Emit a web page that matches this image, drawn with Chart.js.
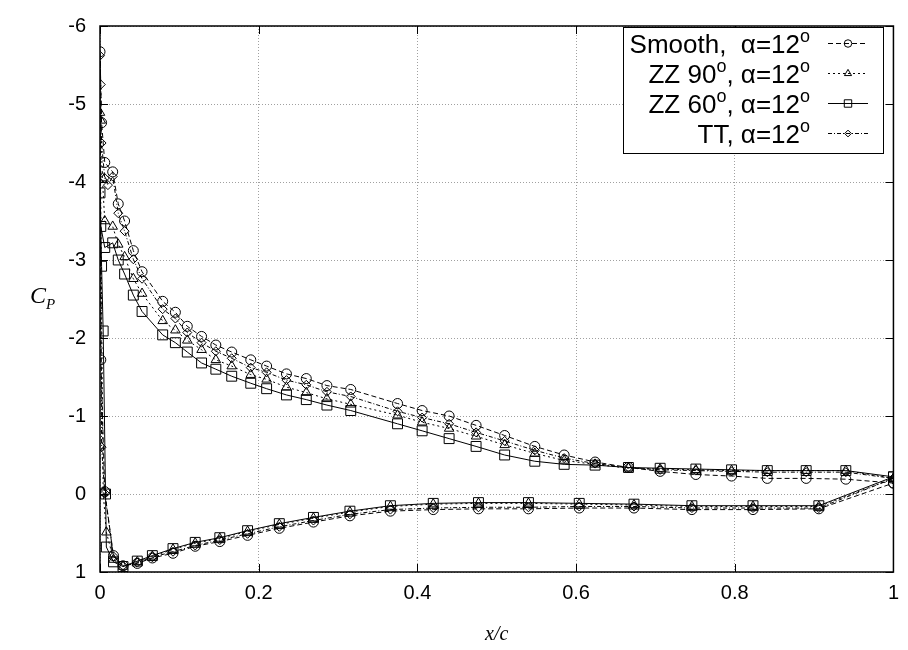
<html><head>
<meta charset="UTF-8">
<title>Cp distribution, alpha 12</title>
<style>
  body { margin: 0; background: #fff; }
  #cpChart { display: block; }
</style>
<script src="https://cdn.jsdelivr.net/npm/chart.js"></script>
</head>
<body>
<canvas id="cpChart" width="908" height="650"></canvas>
<script>
  // Upper surface stations (x/c) shared by all four cases, LE -> TE
  const upperX = [0.016, 0.023, 0.031, 0.042, 0.053, 0.079, 0.095, 0.11, 0.128, 0.146, 0.166, 0.19, 0.21, 0.235, 0.26, 0.286, 0.316,
    0.375, 0.406, 0.44, 0.474, 0.51, 0.548, 0.585, 0.624, 0.666, 0.706, 0.751, 0.796, 0.841, 0.89, 0.94, 1.0];
  const smoothUpper = [-4.13, -3.72, -3.5, -3.12, -2.85, -2.47, -2.33, -2.15, -2.02, -1.91, -1.82, -1.72, -1.64, -1.54, -1.48, -1.39, -1.34,
    -1.16, -1.07, -1.0, -0.88, -0.75, -0.61, -0.5, -0.41, -0.34, -0.29, -0.25, -0.23, -0.2, -0.2, -0.19, -0.14];
  const zz90Upper = [-3.43, -3.2, -3.04, -2.76, -2.57, -2.22, -2.1, -1.97, -1.85, -1.72, -1.64, -1.53, -1.47, -1.37, -1.3, -1.22, -1.15,
    -1.01, -0.92, -0.84, -0.74, -0.63, -0.52, -0.43, -0.38, -0.33, -0.32, -0.31, -0.3, -0.3, -0.3, -0.3, -0.2];
  const zz60Upper = [-3.22, -3.0, -2.82, -2.55, -2.34, -2.04, -1.94, -1.82, -1.68, -1.6, -1.51, -1.42, -1.35, -1.27, -1.21, -1.14, -1.07,
    -0.9, -0.81, -0.71, -0.61, -0.5, -0.42, -0.38, -0.37, -0.34, -0.33, -0.32, -0.31, -0.3, -0.3, -0.3, -0.22];
  const ttUpper = [-4.07, -3.6, -3.37, -3.01, -2.76, -2.37, -2.25, -2.07, -1.94, -1.83, -1.74, -1.62, -1.56, -1.46, -1.4, -1.31, -1.25,
    -1.06, -0.98, -0.9, -0.79, -0.68, -0.56, -0.46, -0.39, -0.34, -0.31, -0.3, -0.29, -0.28, -0.28, -0.28, -0.2];

  // Lower surface stations, LE -> TE (the TE point is the upper one)
  const lowerX = [0.017, 0.029, 0.047, 0.066, 0.092, 0.12, 0.151, 0.186, 0.226, 0.269, 0.315, 0.366, 0.42, 0.477, 0.54, 0.604, 0.673,
    0.746, 0.823, 0.906];
  const smoothLower = [0.79, 0.92, 0.89, 0.82, 0.76, 0.67, 0.61, 0.53, 0.44, 0.36, 0.28, 0.22, 0.2, 0.19, 0.19, 0.18, 0.18, 0.2, 0.2, 0.19];
  const zz90Lower = [0.84, 0.93, 0.87, 0.8, 0.71, 0.63, 0.57, 0.48, 0.39, 0.31, 0.23, 0.16, 0.13, 0.12, 0.12, 0.13, 0.14, 0.16, 0.16, 0.16];
  const zz60Lower = [0.87, 0.93, 0.86, 0.79, 0.7, 0.62, 0.56, 0.47, 0.38, 0.3, 0.22, 0.15, 0.12, 0.11, 0.11, 0.12, 0.13, 0.15, 0.15, 0.15];
  const ttLower = [0.8, 0.92, 0.88, 0.81, 0.74, 0.66, 0.59, 0.51, 0.42, 0.34, 0.26, 0.2, 0.18, 0.17, 0.17, 0.16, 0.16, 0.18, 0.18, 0.18];

  // Leading-edge taps, in order around the nose (upper side -> lower side)
  const smoothNoseX = [0.006, 0.002, 0.0, 0.001, 0.006];
  const smoothNoseCp = [-4.25, -4.76, -5.67, -1.72, -0.03];
  const zz90NoseX = [0.006, 0.003, 0.001, 0.0, 0.004, 0.008];
  const zz90NoseCp = [-3.5, -4.05, -4.79, -4.89, -0.02, 0.49];
  const zz60NoseX = [0.006, 0.001, 0.0, 0.002, 0.004, 0.007, 0.008];
  const zz60NoseCp = [-3.16, -3.43, -3.86, -2.92, -2.09, 0.0, 0.68];
  const ttNoseX = [0.01, 0.006, 0.002, 0.001, 0.0, 0.002, 0.006];
  const ttNoseCp = [-3.96, -4.05, -4.5, -5.25, -5.62, -0.6, -0.01];

  const xTickLabels = ['0', '0.2', '0.4', '0.6', '0.8', '1'];
  const yTickLabels = ['-6', '-5', '-4', '-3', '-2', '-1', '0', '1'];

  // walk TE -> upper -> nose -> lower -> TE
  function loop(up, noseX, noseCp, low) {
    const pts = [];
    for (let i = upperX.length - 1; i >= 0; i--) pts.push({x: upperX[i], y: up[i]});
    noseX.forEach((x, i) => pts.push({x: x, y: noseCp[i]}));
    lowerX.forEach((x, i) => pts.push({x: x, y: low[i]}));
    pts.push({x: upperX[upperX.length - 1], y: up[up.length - 1]});
    return pts;
  }

  const series = [
    {label: ['Smooth,  \u03b1=12', '^o'], data: loop(smoothUpper, smoothNoseX, smoothNoseCp, smoothLower),
      dash: [5, 3], point: 'circle', radius: 5},
    {label: ['ZZ 90', '^o', ', \u03b1=12', '^o'], data: loop(zz90Upper, zz90NoseX, zz90NoseCp, zz90Lower),
      dash: [2, 3], point: 'triangle', radius: 5.5},
    {label: ['ZZ 60', '^o', ', \u03b1=12', '^o'], data: loop(zz60Upper, zz60NoseX, zz60NoseCp, zz60Lower),
      dash: [], point: 'rect', radius: 7},
    {label: ['TT, \u03b1=12', '^o'], data: loop(ttUpper, ttNoseX, ttNoseCp, ttLower),
      dash: [4, 2, 1, 2], point: 'rectRot', radius: 4.5}
  ];

  const tickFont = {family: "'Liberation Sans', Arial, sans-serif", size: 20};

  function drawMarker(ctx, style, x, y, r) {
    ctx.beginPath();
    if (style === 'circle') {
      ctx.arc(x, y, r, 0, Math.PI * 2);
    } else if (style === 'triangle') {
      for (let k = 0; k < 3; k++) {
        const a = -Math.PI / 2 + k * 2 * Math.PI / 3;
        const px = x + Math.cos(a) * r, py = y + Math.sin(a) * r;
        if (k === 0) ctx.moveTo(px, py); else ctx.lineTo(px, py);
      }
      ctx.closePath();
    } else if (style === 'rect') {
      const s = r * Math.SQRT1_2;
      ctx.rect(x - s, y - s, 2 * s, 2 * s);
    } else {
      ctx.moveTo(x, y - r); ctx.lineTo(x + r, y); ctx.lineTo(x, y + r); ctx.lineTo(x - r, y); ctx.closePath();
    }
    ctx.stroke();
  }

  // frame, inward ticks, axis titles and the key box
  const decorations = {
    id: 'decorations',
    afterDraw(chart) {
      const ctx = chart.ctx;
      const a = chart.chartArea;
      const xs = chart.scales.x, ys = chart.scales.y;
      ctx.save();
      ctx.strokeStyle = '#000';
      ctx.lineWidth = 1;
      ctx.setLineDash([]);
      ctx.beginPath();
      xs.ticks.forEach(t => {
        const px = Math.round(xs.getPixelForValue(t.value)) + 0.5;
        ctx.moveTo(px, a.bottom); ctx.lineTo(px, a.bottom - 8);
        ctx.moveTo(px, a.top); ctx.lineTo(px, a.top + 8);
      });
      ys.ticks.forEach(t => {
        const py = Math.round(ys.getPixelForValue(t.value)) + 0.5;
        ctx.moveTo(a.left, py); ctx.lineTo(a.left + 8, py);
        ctx.moveTo(a.right, py); ctx.lineTo(a.right - 8, py);
      });
      ctx.stroke();
      ctx.lineWidth = 1.5;
      ctx.strokeRect(a.left, a.top, a.right - a.left, a.bottom - a.top);

      // axis titles
      ctx.fillStyle = '#000';
      ctx.textBaseline = 'alphabetic';
      ctx.textAlign = 'center';
      ctx.font = "italic 20px 'Liberation Serif', 'Times New Roman', serif";
      ctx.fillText('x/c', (a.left + a.right) / 2, 640);
      ctx.textAlign = 'left';
      ctx.font = "italic 24px 'Liberation Serif', 'Times New Roman', serif";
      ctx.fillText('C', 30, 303);
      ctx.font = "italic 15px 'Liberation Serif', 'Times New Roman', serif";
      ctx.fillText('P', 46, 309);

      // key
      ctx.lineWidth = 1;
      ctx.fillStyle = '#fff';
      ctx.fillRect(623.5, 27.5, 260, 126);
      ctx.strokeRect(623.5, 27.5, 260, 126);
      const mainFont = "26px 'Liberation Sans', Arial, sans-serif";
      const supFont = "18px 'Liberation Sans', Arial, sans-serif";
      series.forEach((s, i) => {
        const base = 53 + i * 30;
        let w = 0;
        s.label.forEach(seg => {
          ctx.font = seg[0] === '^' ? supFont : mainFont;
          w += ctx.measureText(seg[0] === '^' ? seg.slice(1) : seg).width;
        });
        let x = 810 - w;
        ctx.fillStyle = '#000';
        s.label.forEach(seg => {
          const sup = seg[0] === '^';
          const txt = sup ? seg.slice(1) : seg;
          ctx.font = sup ? supFont : mainFont;
          ctx.fillText(txt, x, sup ? base - 11 : base);
          x += ctx.measureText(txt).width;
        });
        const ly = base - 9.5;
        ctx.setLineDash(s.dash);
        ctx.beginPath();
        ctx.moveTo(828, ly); ctx.lineTo(868, ly);
        ctx.stroke();
        ctx.setLineDash([]);
        drawMarker(ctx, s.point, 848, ly, s.radius * 0.75);
      });
      ctx.restore();
    }
  };

  new Chart(document.getElementById('cpChart'), {
    type: 'scatter',
    data: {
      datasets: series.map(s => ({
        label: s.label.join(''),
        data: s.data,
        showLine: true,
        borderColor: '#000',
        borderWidth: 1,
        borderDash: s.dash,
        backgroundColor: 'rgba(0,0,0,0)',
        pointStyle: s.point,
        pointRadius: s.radius,
        pointBorderColor: '#000',
        pointBorderWidth: 1,
        pointBackgroundColor: 'rgba(0,0,0,0)',
        tension: 0
      }))
    },
    options: {
      responsive: false,
      animation: false,
      layout: {padding: {top: 19, right: 8, left: 0, bottom: 0}},
      plugins: {legend: {display: false}, tooltip: {enabled: false}},
      scales: {
        x: {
          type: 'linear', min: 0, max: 1,
          afterBuildTicks: s => { s.ticks = xTickLabels.map(v => ({value: parseFloat(v)})); },
          afterFit: s => { s.height = 78; },
          ticks: {color: '#000', font: tickFont, padding: 9, maxRotation: 0,
            callback: (v, i) => xTickLabels[i]},
          grid: {color: '#a0a0a0', drawTicks: false},
          border: {display: false, dash: [1, 2]}
        },
        y: {
          type: 'linear', min: -6, max: 1, reverse: true,
          afterBuildTicks: s => { s.ticks = yTickLabels.map(v => ({value: parseFloat(v)})); },
          afterFit: s => { s.width = 100; },
          ticks: {color: '#000', font: tickFont, padding: 14,
            callback: (v, i) => yTickLabels[i]},
          grid: {color: '#a0a0a0', drawTicks: false},
          border: {display: false, dash: [1, 2]}
        }
      }
    },
    plugins: [decorations]
  });
</script>
</body></html>
